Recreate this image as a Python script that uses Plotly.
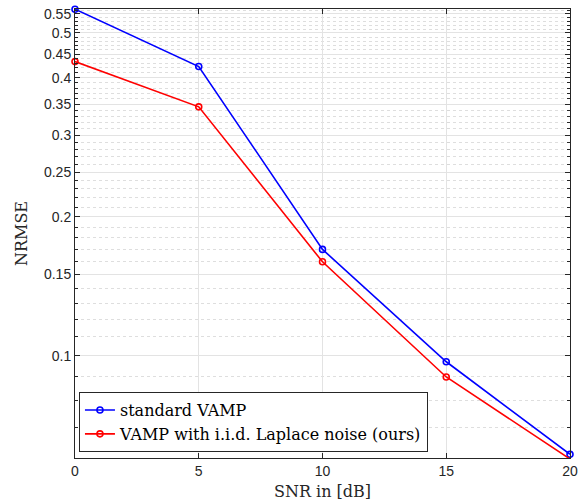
import numpy as np
import plotly.graph_objects as go

snr_db = [0, 5, 10, 15, 20]
nrmse_standard = [0.563, 0.423, 0.170, 0.0971, 0.0612]
nrmse_laplace = [0.4335, 0.346, 0.1598, 0.0900, 0.0598]

series_names = ["standard VAMP", "VAMP with i.i.d. Laplace noise (ours)"]
series_colors = ["#0000ff", "#ff0000"]

y_major = [0.1, 0.15, 0.2, 0.25, 0.3, 0.35, 0.4, 0.45, 0.5, 0.55]
y_major_text = ["0.1", "0.15", "0.2", "0.25", "0.3", "0.35", "0.4", "0.45", "0.5", "0.55"]
y_minor = [round(0.01 * k, 2) for k in range(6, 57) if round(0.01 * k, 2) not in y_major]
x_ticks = [0, 5, 10, 15, 20]

serif = "DejaVu Serif"
sans = "Liberation Sans"

fig = go.Figure()
for name, ys, col in zip(series_names, [nrmse_standard, nrmse_laplace], series_colors):
    fig.add_trace(go.Scatter(
        x=snr_db, y=ys, name=name, mode="lines+markers",
        line=dict(color=col, width=1.6),
        marker=dict(symbol="circle-open", size=6, color=col, line=dict(width=1.6, color=col)),
        cliponaxis=False,
    ))

axis_common = dict(
    showline=True, linecolor="#262626", linewidth=1, mirror="ticks",
    ticks="inside", tickcolor="#262626", ticklen=5, tickwidth=1,
    showgrid=True, gridcolor="#e3e3e3", gridwidth=1, zeroline=False,
    tickfont=dict(family=sans, size=14, color="#262626"),
)

fig.update_layout(
    width=584, height=504,
    margin=dict(l=75, r=14, t=6, b=46),
    paper_bgcolor="white", plot_bgcolor="white",
    xaxis=dict(
        range=[0, 20], tickvals=x_ticks, ticktext=[str(v) for v in x_ticks],
        title=dict(text="SNR in [dB]", font=dict(family=serif, size=16, color="#262626"), standoff=8),
        **axis_common,
    ),
    yaxis=dict(
        type="log", range=[np.log10(0.0601), np.log10(0.5635)],
        tickvals=y_major, ticktext=y_major_text,
        minor=dict(tickvals=y_minor, ticks="inside", ticklen=3, tickcolor="#262626",
                   showgrid=True, gridcolor="#dedede", griddash="dot", gridwidth=1),
        title=dict(text="NRMSE", font=dict(family=serif, size=16, color="#262626"), standoff=12),
        **axis_common,
    ),
    legend=dict(
        x=0.008, y=0.013, xanchor="left", yanchor="bottom",
        bgcolor="white", bordercolor="#262626", borderwidth=1,
        font=dict(family=serif, size=16, color="black"),
        tracegroupgap=0, itemwidth=30,
    ),
    showlegend=True,
)

fig.write_html("out.html", config={"displayModeBar": False},
               post_script="document.body.style.margin='0';")
